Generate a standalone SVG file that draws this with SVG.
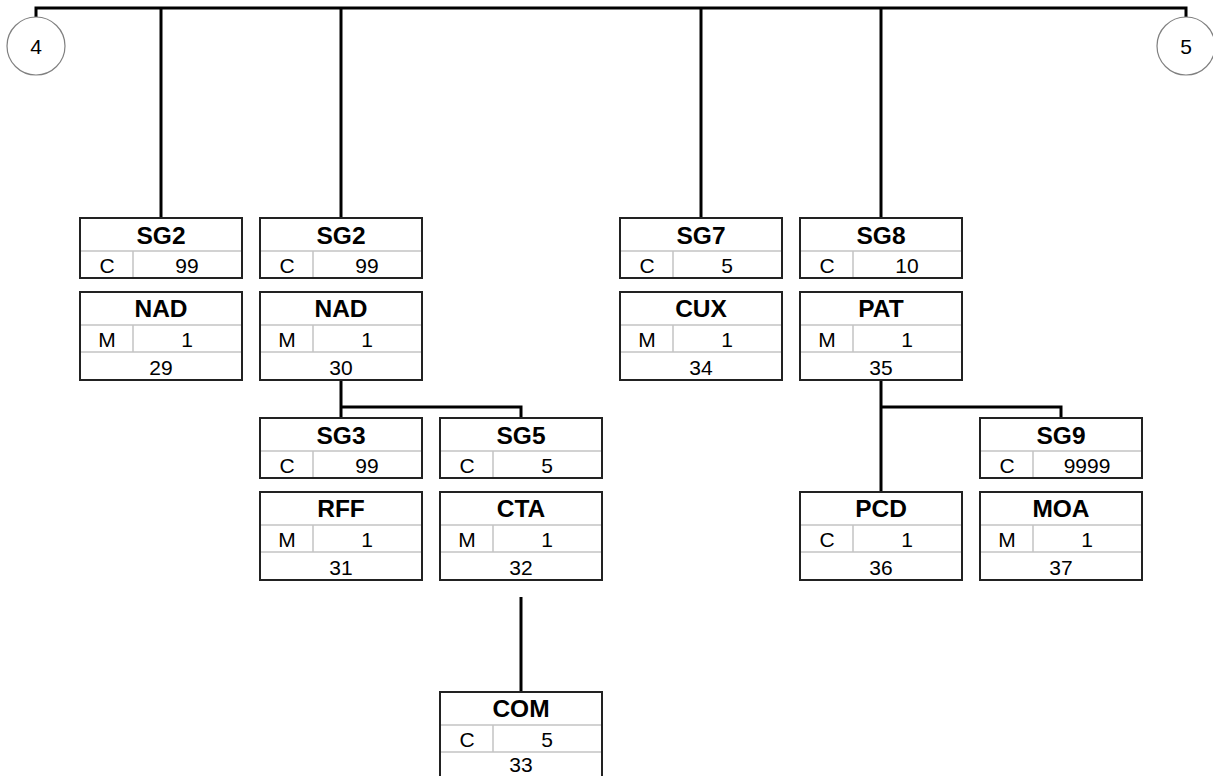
<svg xmlns="http://www.w3.org/2000/svg" width="1213" height="776" viewBox="0 0 1213 776">
<style>
.bg{fill:#ffffff}
.box{fill:#ffffff;stroke:#222222;stroke-width:2}
.div{stroke:#c4c4c4;stroke-width:1.5;fill:none}
.hd{font-family:"Liberation Sans",Arial,sans-serif;font-weight:bold;font-size:24.5px;text-anchor:middle;fill:#000}
.tx{font-family:"Liberation Sans",Arial,sans-serif;font-size:21px;text-anchor:middle;fill:#000}
.con{stroke:#000;stroke-width:3;fill:none}
.circ{fill:#ffffff;stroke:#808080;stroke-width:1.2}
</style>
<rect class="bg" x="0" y="0" width="1213" height="776"/>
<g id="connectors">
<path class="con" d="M36,17 V8 H1186 V17"/>
<path class="con" d="M161,8 V218"/>
<path class="con" d="M341,8 V218"/>
<path class="con" d="M701,8 V218"/>
<path class="con" d="M881,8 V218"/>
<path class="con" d="M341,380 V418 M341,407 H521 V418"/>
<path class="con" d="M881,380 V492 M881,407 H1061 V418"/>
<path class="con" d="M521,597 V692"/>
</g>
<g id="c4"><circle class="circ" cx="36" cy="46" r="29"/><text class="tx" x="36" y="54">4</text></g>
<g id="c5"><circle class="circ" cx="1186" cy="46" r="29"/><text class="tx" x="1186" y="54">5</text></g>

<g id="sg2a" transform="translate(80,218)"><rect class="box" width="162" height="60"/><path class="div" d="M1,33 H161 M53,33 V59"/><text class="hd" x="81" y="26">SG2</text><text class="tx" x="27" y="55">C</text><text class="tx" x="107" y="55">99</text></g>
<g id="sg2b" transform="translate(260,218)"><rect class="box" width="162" height="60"/><path class="div" d="M1,33 H161 M53,33 V59"/><text class="hd" x="81" y="26">SG2</text><text class="tx" x="27" y="55">C</text><text class="tx" x="107" y="55">99</text></g>
<g id="sg7" transform="translate(620,218)"><rect class="box" width="162" height="60"/><path class="div" d="M1,33 H161 M53,33 V59"/><text class="hd" x="81" y="26">SG7</text><text class="tx" x="27" y="55">C</text><text class="tx" x="107" y="55">5</text></g>
<g id="sg8" transform="translate(800,218)"><rect class="box" width="162" height="60"/><path class="div" d="M1,33 H161 M53,33 V59"/><text class="hd" x="81" y="26">SG8</text><text class="tx" x="27" y="55">C</text><text class="tx" x="107" y="55">10</text></g>

<g id="nad29" transform="translate(80,292)"><rect class="box" width="162" height="88"/><path class="div" d="M1,33 H161 M53,33 V60 M1,60 H161"/><text class="hd" x="81" y="25">NAD</text><text class="tx" x="27" y="55">M</text><text class="tx" x="107" y="55">1</text><text class="tx" x="81" y="83">29</text></g>
<g id="nad30" transform="translate(260,292)"><rect class="box" width="162" height="88"/><path class="div" d="M1,33 H161 M53,33 V60 M1,60 H161"/><text class="hd" x="81" y="25">NAD</text><text class="tx" x="27" y="55">M</text><text class="tx" x="107" y="55">1</text><text class="tx" x="81" y="83">30</text></g>
<g id="cux34" transform="translate(620,292)"><rect class="box" width="162" height="88"/><path class="div" d="M1,33 H161 M53,33 V60 M1,60 H161"/><text class="hd" x="81" y="25">CUX</text><text class="tx" x="27" y="55">M</text><text class="tx" x="107" y="55">1</text><text class="tx" x="81" y="83">34</text></g>
<g id="pat35" transform="translate(800,292)"><rect class="box" width="162" height="88"/><path class="div" d="M1,33 H161 M53,33 V60 M1,60 H161"/><text class="hd" x="81" y="25">PAT</text><text class="tx" x="27" y="55">M</text><text class="tx" x="107" y="55">1</text><text class="tx" x="81" y="83">35</text></g>

<g id="sg3" transform="translate(260,418)"><rect class="box" width="162" height="60"/><path class="div" d="M1,33 H161 M53,33 V59"/><text class="hd" x="81" y="26">SG3</text><text class="tx" x="27" y="55">C</text><text class="tx" x="107" y="55">99</text></g>
<g id="sg5" transform="translate(440,418)"><rect class="box" width="162" height="60"/><path class="div" d="M1,33 H161 M53,33 V59"/><text class="hd" x="81" y="26">SG5</text><text class="tx" x="27" y="55">C</text><text class="tx" x="107" y="55">5</text></g>
<g id="sg9" transform="translate(980,418)"><rect class="box" width="162" height="60"/><path class="div" d="M1,33 H161 M53,33 V59"/><text class="hd" x="81" y="26">SG9</text><text class="tx" x="27" y="55">C</text><text class="tx" x="107" y="55">9999</text></g>

<g id="rff31" transform="translate(260,492)"><rect class="box" width="162" height="88"/><path class="div" d="M1,33 H161 M53,33 V60 M1,60 H161"/><text class="hd" x="81" y="25">RFF</text><text class="tx" x="27" y="55">M</text><text class="tx" x="107" y="55">1</text><text class="tx" x="81" y="83">31</text></g>
<g id="cta32" transform="translate(440,492)"><rect class="box" width="162" height="88"/><path class="div" d="M1,33 H161 M53,33 V60 M1,60 H161"/><text class="hd" x="81" y="25">CTA</text><text class="tx" x="27" y="55">M</text><text class="tx" x="107" y="55">1</text><text class="tx" x="81" y="83">32</text></g>
<g id="pcd36" transform="translate(800,492)"><rect class="box" width="162" height="88"/><path class="div" d="M1,33 H161 M53,33 V60 M1,60 H161"/><text class="hd" x="81" y="25">PCD</text><text class="tx" x="27" y="55">C</text><text class="tx" x="107" y="55">1</text><text class="tx" x="81" y="83">36</text></g>
<g id="moa37" transform="translate(980,492)"><rect class="box" width="162" height="88"/><path class="div" d="M1,33 H161 M53,33 V60 M1,60 H161"/><text class="hd" x="81" y="25">MOA</text><text class="tx" x="27" y="55">M</text><text class="tx" x="107" y="55">1</text><text class="tx" x="81" y="83">37</text></g>

<g id="com33" transform="translate(440,692)"><rect class="box" width="162" height="88"/><path class="div" d="M1,33 H161 M53,33 V60 M1,60 H161"/><text class="hd" x="81" y="25">COM</text><text class="tx" x="27" y="55">C</text><text class="tx" x="107" y="55">5</text><text class="tx" x="81" y="80">33</text></g>
</svg>
